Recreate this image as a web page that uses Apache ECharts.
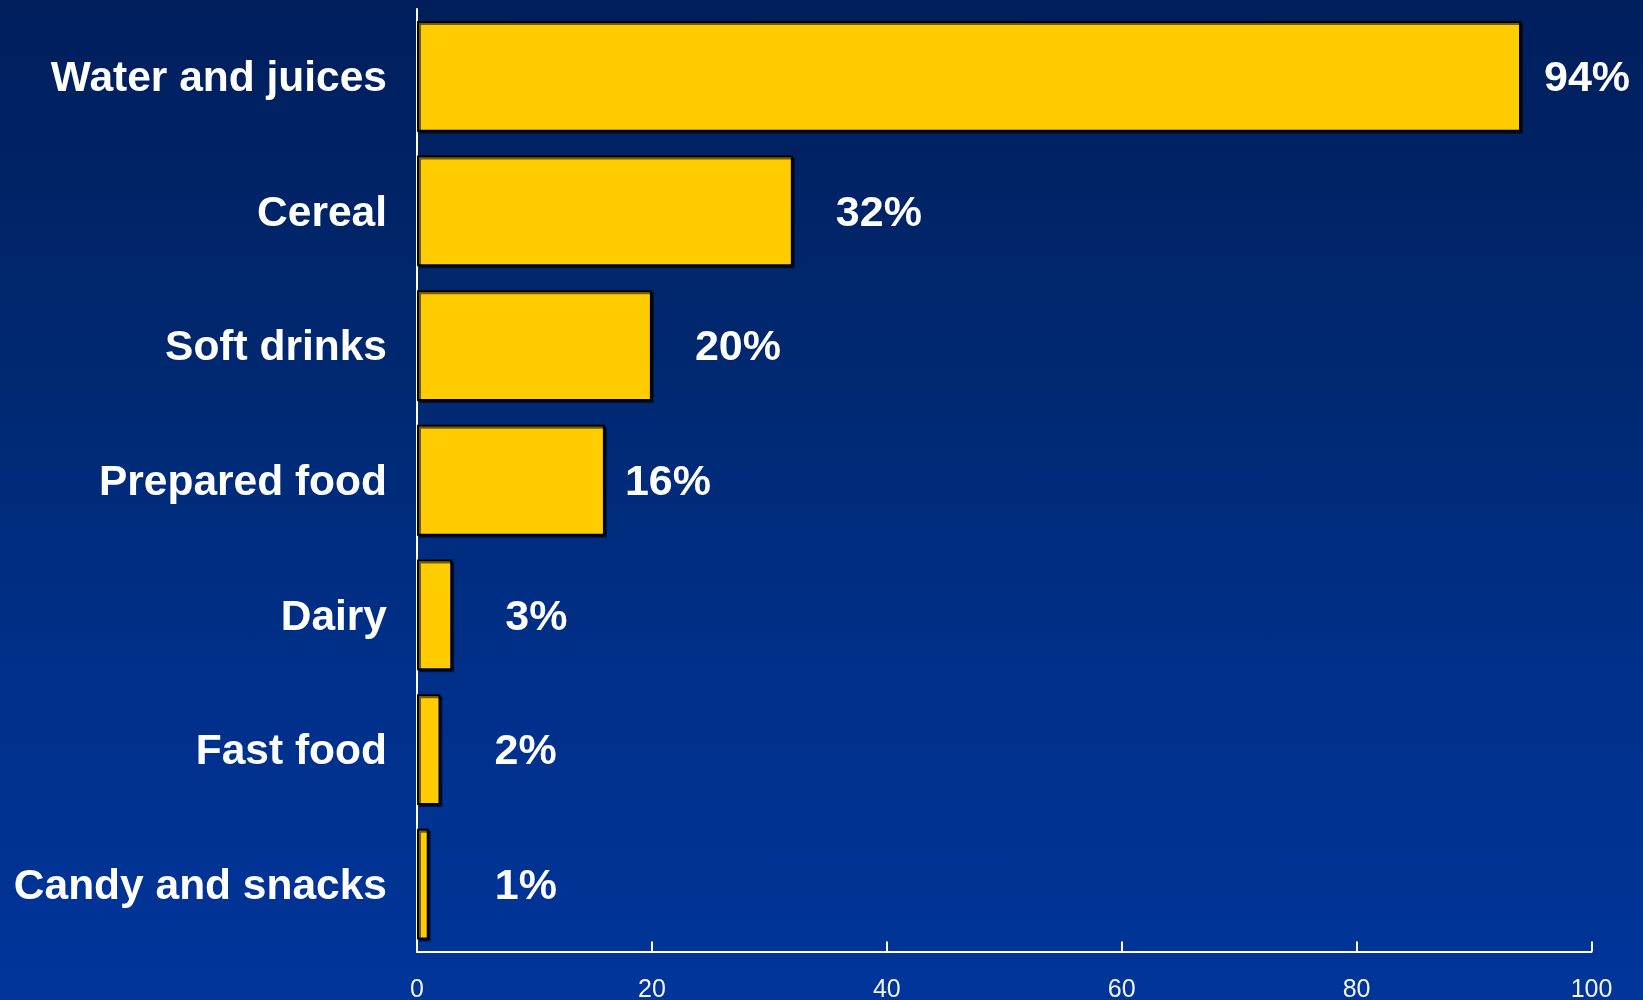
<!DOCTYPE html>
<html>
<head>
<meta charset="utf-8">
<script src="https://cdn.jsdelivr.net/npm/echarts@6/dist/echarts.min.js"></script>
<style>
  html, body { margin: 0; padding: 0; }
  body {
    width: 1643px; height: 1000px; overflow: hidden;
    background: linear-gradient(to bottom, #001e5c 0%, #00286f 35%, #002f88 65%, #00359a 100%);
  }
  #chart { width: 1643px; height: 1000px; }
</style>
</head>
<body>
<div id="chart"></div>
<script>
// Share of respondents by product category (percent)
const categories = ['Water and juices', 'Cereal', 'Soft drinks', 'Prepared food', 'Dairy', 'Fast food', 'Candy and snacks'];
const shares = [94, 32, 20, 16, 3, 2, 1];
const valueTicks = [0, 20, 40, 60, 80, 100];

// Gap (px) between each bar end and its value label
const labelGap = [23, 43, 43, 20, 53, 54, 66];

const chart = echarts.init(document.getElementById('chart'), null, { renderer: 'canvas' });

chart.setOption({
  backgroundColor: 'transparent',
  animation: false,
  grid: {
    left: 417, right: 51.5, top: 9, bottom: 48.5,
    containLabel: false, outerBoundsMode: 'none'
  },
  xAxis: {
    type: 'value',
    min: valueTicks[0],
    max: valueTicks[valueTicks.length - 1],
    interval: valueTicks[1] - valueTicks[0],
    splitLine: { show: false },
    axisLine: { show: true, lineStyle: { color: '#ffffff', width: 2 } },
    axisTick: { show: true, inside: true, length: 10, lineStyle: { color: '#ffffff', width: 2 } },
    axisLabel: {
      color: '#f2f2f2', fontSize: 25, margin: 26,
      fontFamily: 'Liberation Sans, Arial, sans-serif'
    }
  },
  yAxis: {
    type: 'category',
    data: categories,
    inverse: true,
    axisLine: { show: true, lineStyle: { color: '#ffffff', width: 2 } },
    axisTick: { show: false },
    axisLabel: {
      margin: 30,
      formatter: name => '{cat|' + name + '}',
      rich: {
        cat: {
          color: '#ffffff', fontSize: 42.5, fontWeight: 'bold',
          padding: [6, 0, 0, 0],
          fontFamily: 'Liberation Sans, Arial, sans-serif'
        }
      }
    }
  },
  series: [{
    type: 'bar',
    barCategoryGap: '17.7%',
    data: shares.map((v, i) => ({
      value: v,
      label: { distance: labelGap[i] }
    })),
    itemStyle: {
      color: '#ffcc00',
      borderColor: '#000000',
      borderWidth: 2,
      shadowColor: 'rgba(0,0,0,0.55)',
      shadowOffsetX: 2,
      shadowOffsetY: 2,
      shadowBlur: 0
    },
    label: {
      show: true,
      position: 'right',
      offset: [0, 3],
      color: '#ffffff',
      fontSize: 43,
      fontWeight: 'bold',
      fontFamily: 'Liberation Sans, Arial, sans-serif',
      formatter: p => p.value + '%'
    }
  }]
});
</script>
</body>
</html>
